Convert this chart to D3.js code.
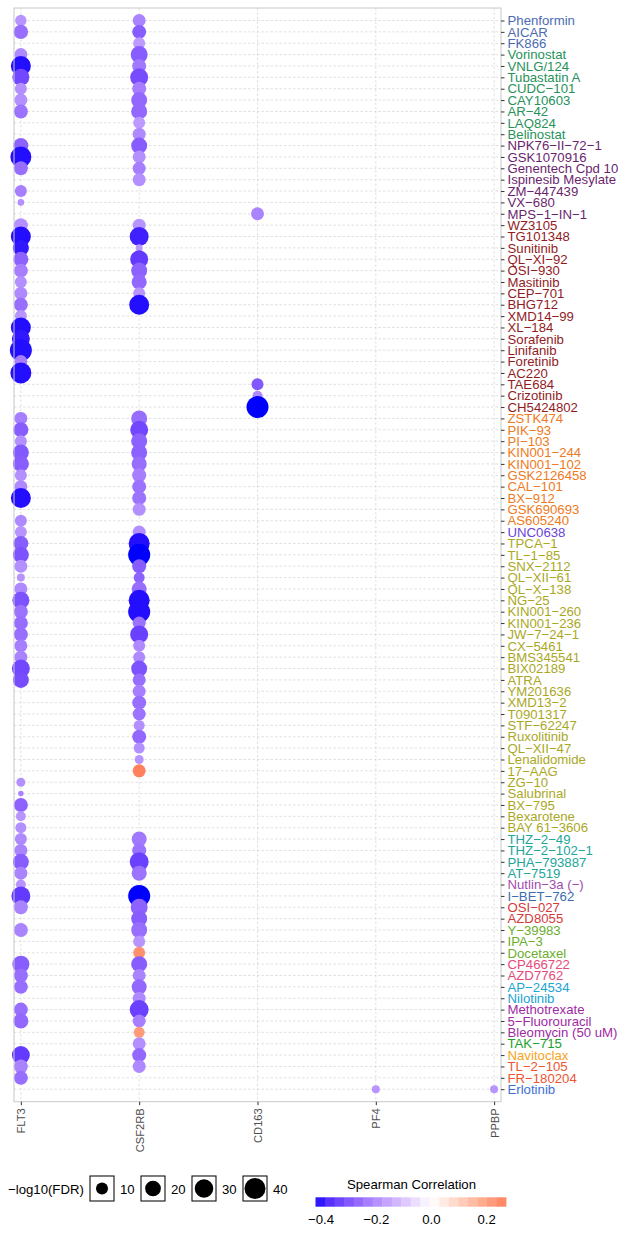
<!DOCTYPE html>
<html>
<head>
<meta charset="utf-8">
<script src="https://cdn.jsdelivr.net/npm/d3@7"></script>
<style>
  body { margin: 0; background: #fff; }
  text { font-family: "Liberation Sans", Arial, sans-serif; }
</style>
</head>
<body>
<div id="chart"></div>
<script>
// drugs, top to bottom
var drugs = ["Phenformin", "AICAR", "FK866", "Vorinostat", "VNLG/124", "Tubastatin A", "CUDC\u2212101",
  "CAY10603", "AR\u221242", "LAQ824", "Belinostat", "NPK76\u2212II\u221272\u22121", "GSK1070916",
  "Genentech Cpd 10", "Ispinesib Mesylate", "ZM\u2212447439", "VX\u2212680", "MPS\u22121\u2212IN\u22121",
  "WZ3105", "TG101348", "Sunitinib", "QL\u2212XI\u221292", "OSI\u2212930", "Masitinib", "CEP\u2212701",
  "BHG712", "XMD14\u221299", "XL\u2212184", "Sorafenib", "Linifanib", "Foretinib", "AC220", "TAE684",
  "Crizotinib", "CH5424802", "ZSTK474", "PIK\u221293", "PI\u2212103", "KIN001\u2212244", "KIN001\u2212102",
  "GSK2126458", "CAL\u2212101", "BX\u2212912", "GSK690693", "AS605240", "UNC0638", "TPCA\u22121",
  "TL\u22121\u221285", "SNX\u22122112", "QL\u2212XII\u221261", "QL\u2212X\u2212138", "NG\u221225",
  "KIN001\u2212260", "KIN001\u2212236", "JW\u22127\u221224\u22121", "CX\u22125461", "BMS345541",
  "BIX02189", "ATRA", "YM201636", "XMD13\u22122", "T0901317", "STF\u221262247", "Ruxolitinib",
  "QL\u2212XII\u221247", "Lenalidomide", "17\u2212AAG", "ZG\u221210", "Salubrinal", "BX\u2212795",
  "Bexarotene", "BAY 61\u22123606", "THZ\u22122\u221249", "THZ\u22122\u2212102\u22121", "PHA\u2212793887",
  "AT\u22127519", "Nutlin\u22123a (\u2212)", "I\u2212BET\u2212762", "OSI\u2212027", "AZD8055", "Y\u221239983",
  "IPA\u22123", "Docetaxel", "CP466722", "AZD7762", "AP\u221224534", "Nilotinib", "Methotrexate",
  "5\u2212Fluorouracil", "Bleomycin (50 uM)", "TAK\u2212715", "Navitoclax", "TL\u22122\u2212105",
  "FR\u2212180204", "Erlotinib"];

// label colour groups: how many consecutive drugs share a colour
var groupSizes  = [3, 8, 7, 17, 10, 1, 26, 4, 1, 1, 2, 3, 2, 2, 3, 1, 1, 2, 1];
var groupColors = ["#4a6bb3", "#26925a", "#6b1f6f", "#921b1e", "#ee7a22", "#6a45d8", "#aaa81f",
  "#22a59a", "#a24cb0", "#3d6db0", "#d33a3a", "#6bae2e", "#e54a7c", "#21a3d3", "#a02aa5",
  "#22a02a", "#f7a21c", "#ee5533", "#3d6fd6"];

var genes = ["FLT3", "CSF2RB", "CD163", "PF4", "PPBP"];

// per drug, null = no point
var flt3Corr = [-0.19, -0.26, null, -0.21, -0.41, -0.33, -0.20, -0.20, -0.25, null, null, -0.28, -0.41,
  -0.26, null, -0.23, -0.20, null, -0.20, -0.41, -0.40, -0.28, -0.23, -0.20, -0.21, -0.26, -0.19, -0.41,
  -0.40, -0.41, -0.23, -0.41, null, null, null, -0.23, -0.29, -0.20, -0.30, -0.29, -0.20, -0.21, -0.41,
  null, -0.21, -0.19, -0.29, -0.31, -0.20, -0.19, -0.21, -0.31, -0.25, -0.26, -0.26, -0.23, -0.22, -0.33,
  -0.32, null, null, null, null, null, null, null, null, -0.20, -0.22, -0.28, -0.19, -0.20, -0.21, -0.22,
  -0.29, -0.22, -0.19, -0.35, -0.22, null, -0.22, null, null, -0.29, -0.26, -0.26, null, -0.26, -0.27,
  null, null, -0.35, -0.22, -0.26, null];
var flt3Fdr = [8.7, 16, null, 12.3, 35.7, 24.2, 10, 12.3, 14.9, null, null, 17.8, 40, 14.9, null, 10,
  1.6, null, 14.9, 35.7, 20.9, 17.8, 14.9, 10, 12.3, 14.9, 10, 35.7, 27.8, 44.6, 12.3, 40, null, null,
  null, 12.3, 17.8, 10, 20.9, 20.9, 10, 12.3, 35.7, null, 10, 10, 17.8, 20.9, 12.3, 3.1, 12.3, 24.2, 14.9,
  14.9, 14.9, 12.3, 12.3, 27.8, 20.9, null, null, null, null, null, null, null, null, 4.4, 0.8, 14.9, 6,
  7.9, 10, 12.3, 20.9, 12.3, 6, 31.6, 14.9, null, 14.9, null, null, 24.2, 14.9, 14.9, null, 14.9, 17.8,
  null, null, 27.8, 14.9, 14.9, null];

var csf2rbCorr = [-0.22, -0.29, -0.18, -0.29, -0.24, -0.32, -0.23, -0.27, -0.27, -0.18, -0.21, -0.29,
  -0.20, -0.23, -0.20, null, null, null, -0.19, -0.39, -0.18, -0.35, -0.28, -0.27, -0.19, -0.41, null, null,
  null, null, null, null, null, null, null, -0.26, -0.33, -0.28, -0.28, -0.26, -0.23, -0.25, -0.25, -0.20,
  null, -0.20, -0.41, -0.42, -0.29, -0.28, -0.26, -0.41, -0.41, -0.25, -0.34, -0.21, -0.21, -0.31, -0.26,
  -0.23, -0.26, -0.25, -0.20, -0.27, -0.20, -0.19, 0.27, null, null, null, null, null, -0.24, -0.25, -0.34,
  -0.25, null, -0.42, -0.28, -0.29, -0.26, -0.19, 0.24, -0.29, -0.22, -0.27, -0.21, -0.34, -0.23, 0.22,
  -0.20, -0.27, -0.21, null, null];
var csf2rbFdr = [12.3, 14.9, 10, 24.2, 14.9, 27.8, 14.9, 20.9, 20.9, 10, 12.3, 20.9, 12.3, 12.3, 12.3,
  null, null, null, 12.3, 31.6, 2, 27.8, 20.9, 17.8, 10, 35.7, null, null, null, null, null, null, null,
  null, null, 20.9, 27.8, 20.9, 20.9, 17.8, 14.9, 14.9, 14.9, 12.3, null, 12.3, 40, 44.6, 14.9, 7.9, 17.8,
  40, 44.6, 12.3, 27.8, 10, 10, 20.9, 12.3, 12.3, 14.9, 12.3, 7.9, 14.9, 7.9, 4.4, 12.3, null, null, null,
  null, null, 17.8, 14.9, 31.6, 17.8, null, 44.6, 24.2, 20.9, 20.9, 10, 10, 20.9, 12.3, 17.8, 12.3, 31.6,
  12.3, 7.9, 12.3, 14.9, 12.3, null, null];

// sparse columns
var cd163Drugs = ["MPS\u22121\u2212IN\u22121", "TAE684", "Crizotinib", "CH5424802"];
var cd163Corr  = [-0.22, -0.30, -0.21, -0.42];
var cd163Fdr   = [12.3, 10, 6, 44.6];
var pf4Drugs = ["Erlotinib"], pf4Corr = [-0.19], pf4Fdr = [3.1];
var ppbpDrugs = ["Erlotinib"], ppbpCorr = [-0.19], ppbpFdr = [3.1];

var sizeBreaks = [10, 20, 30, 40];
var colorTicks = [-0.4, -0.2, 0.0, 0.2];

// ---- build point table
var points = [];
drugs.forEach(function (d, i) {
  if (flt3Corr[i] !== null) points.push({ drug: d, gene: "FLT3", corr: flt3Corr[i], fdr: flt3Fdr[i] });
  if (csf2rbCorr[i] !== null) points.push({ drug: d, gene: "CSF2RB", corr: csf2rbCorr[i], fdr: csf2rbFdr[i] });
});
cd163Drugs.forEach(function (d, i) { points.push({ drug: d, gene: "CD163", corr: cd163Corr[i], fdr: cd163Fdr[i] }); });
pf4Drugs.forEach(function (d, i) { points.push({ drug: d, gene: "PF4", corr: pf4Corr[i], fdr: pf4Fdr[i] }); });
ppbpDrugs.forEach(function (d, i) { points.push({ drug: d, gene: "PPBP", corr: ppbpCorr[i], fdr: ppbpFdr[i] }); });

var labelColor = [];
groupSizes.forEach(function (n, g) { for (var k = 0; k < n; k++) labelColor.push(groupColors[g]); });

var width = 627, height = 1242;
var panel = { left: 14, right: 501, top: 8, bottom: 1101.7 };

var svg = d3.select("#chart").append("svg")
  .attr("width", width)
  .attr("height", height);

var xScale = d3.scalePoint().domain(genes).range([panel.left, panel.right]).padding(0.058);
var yScale = d3.scalePoint().domain(drugs).range([panel.top, panel.bottom]).padding(1.1);

var cmin = d3.min(points, d => d.corr), cmax = d3.max(points, d => d.corr);
var cabs = Math.max(Math.abs(cmin), Math.abs(cmax));
var colorScale = d3.scaleLinear()
  .domain([-cabs, 0, cabs])
  .range(["#0000ff", "#ffffff", "#ff0000"])
  .interpolate(d3.interpolateLab);
var rScale = d3.scaleSqrt().domain([0, 45]).range([1.5, 11.05]);

// panel background + grid
svg.append("rect")
  .attr("x", panel.left).attr("y", panel.top)
  .attr("width", panel.right - panel.left).attr("height", panel.bottom - panel.top)
  .attr("fill", "#fff");

var grid = svg.append("g").attr("stroke", "#d2d2d2").attr("stroke-width", 0.7).attr("stroke-dasharray", "2.5,2");
grid.selectAll("line.h").data(drugs).enter().append("line")
  .attr("x1", panel.left).attr("x2", panel.right)
  .attr("y1", d => yScale(d)).attr("y2", d => yScale(d));
grid.selectAll("line.v").data(genes).enter().append("line")
  .attr("y1", panel.top).attr("y2", panel.bottom)
  .attr("x1", d => xScale(d)).attr("x2", d => xScale(d));

// points
svg.append("g").selectAll("circle")
  .data(points)
  .enter()
  .append("circle")
  .attr("cx", d => xScale(d.gene))
  .attr("cy", d => yScale(d.drug))
  .attr("r", d => rScale(d.fdr))
  .attr("fill", d => colorScale(d.corr));

// panel border
svg.append("rect")
  .attr("x", panel.left).attr("y", panel.top)
  .attr("width", panel.right - panel.left).attr("height", panel.bottom - panel.top)
  .attr("fill", "none").attr("stroke", "#c8c8c8").attr("stroke-width", 1);

// right axis (drug names)
var yAxis = d3.axisRight(yScale).tickSize(3.5).tickPadding(3);
var yG = svg.append("g").attr("transform", `translate(${panel.right},0)`).call(yAxis);
yG.select(".domain").remove();
yG.selectAll(".tick line").attr("stroke", "#333").attr("stroke-width", 1);
yG.selectAll(".tick text")
  .attr("font-size", "13.2px")
  .attr("font-family", "Liberation Sans, Arial, sans-serif")
  .attr("fill", (d, i) => labelColor[i]);

// bottom axis (genes), rotated
var xAxis = d3.axisBottom(xScale).tickSize(3.5).tickPadding(3);
var xG = svg.append("g").attr("transform", `translate(0,${panel.bottom})`).call(xAxis);
xG.select(".domain").remove();
xG.selectAll(".tick line").attr("stroke", "#333").attr("stroke-width", 1);
xG.selectAll(".tick text")
  .attr("font-size", "11.2px")
  .attr("font-family", "Liberation Sans, Arial, sans-serif")
  .attr("fill", "#4d4d4d")
  .attr("transform", "rotate(-90)")
  .attr("text-anchor", "end")
  .attr("x", -6.5)
  .attr("y", 0)
  .attr("dy", "0.35em");

// size legend
var sizeLeg = svg.append("g");
sizeLeg.append("text")
  .attr("x", 8).attr("y", 1193.5)
  .attr("font-size", "13.2px").attr("fill", "#000")
  .text("\u2212log10(FDR)");
var legX = d3.scaleLinear().domain([0, 1]).range([90, 141]);
sizeBreaks.forEach(function (b, i) {
  var bx = legX(i);
  sizeLeg.append("rect")
    .attr("x", bx).attr("y", 1176).attr("width", 24).attr("height", 25)
    .attr("fill", "#fff").attr("stroke", "#111").attr("stroke-width", 1.1);
  sizeLeg.append("circle")
    .attr("cx", bx + 12).attr("cy", 1188.5)
    .attr("r", rScale(b)).attr("fill", "#000");
  sizeLeg.append("text")
    .attr("x", bx + 30).attr("y", 1193.5)
    .attr("font-size", "13.2px").attr("fill", "#000")
    .text(b);
});

// colour bar legend
var barScale = d3.scaleLinear().domain([cmin, cmax]).range([315.5, 506]);
var colLeg = svg.append("g");
colLeg.append("text")
  .attr("x", 411.5).attr("y", 1188.5)
  .attr("text-anchor", "middle")
  .attr("font-size", "13.2px").attr("fill", "#000")
  .text("Spearman Correlation");
var nbin = 20;
var bins = d3.range(nbin).map(i => cmin + (cmax - cmin) * (i + 0.5) / nbin);
var binW = (barScale(cmax) - barScale(cmin)) / nbin;
colLeg.selectAll("rect.bin").data(bins).enter().append("rect")
  .attr("x", (d, i) => barScale(cmin) + i * binW)
  .attr("y", 1197.3)
  .attr("width", binW + 0.4)
  .attr("height", 9.4)
  .attr("fill", d => colorScale(d));
colLeg.selectAll("text.tick").data(colorTicks).enter().append("text")
  .attr("x", d => barScale(d))
  .attr("y", 1223.5)
  .attr("text-anchor", "middle")
  .attr("font-size", "13.2px").attr("fill", "#000")
  .text(d => d3.format(".1f")(d).replace("-", "\u2212"));
</script>
</body>
</html>
